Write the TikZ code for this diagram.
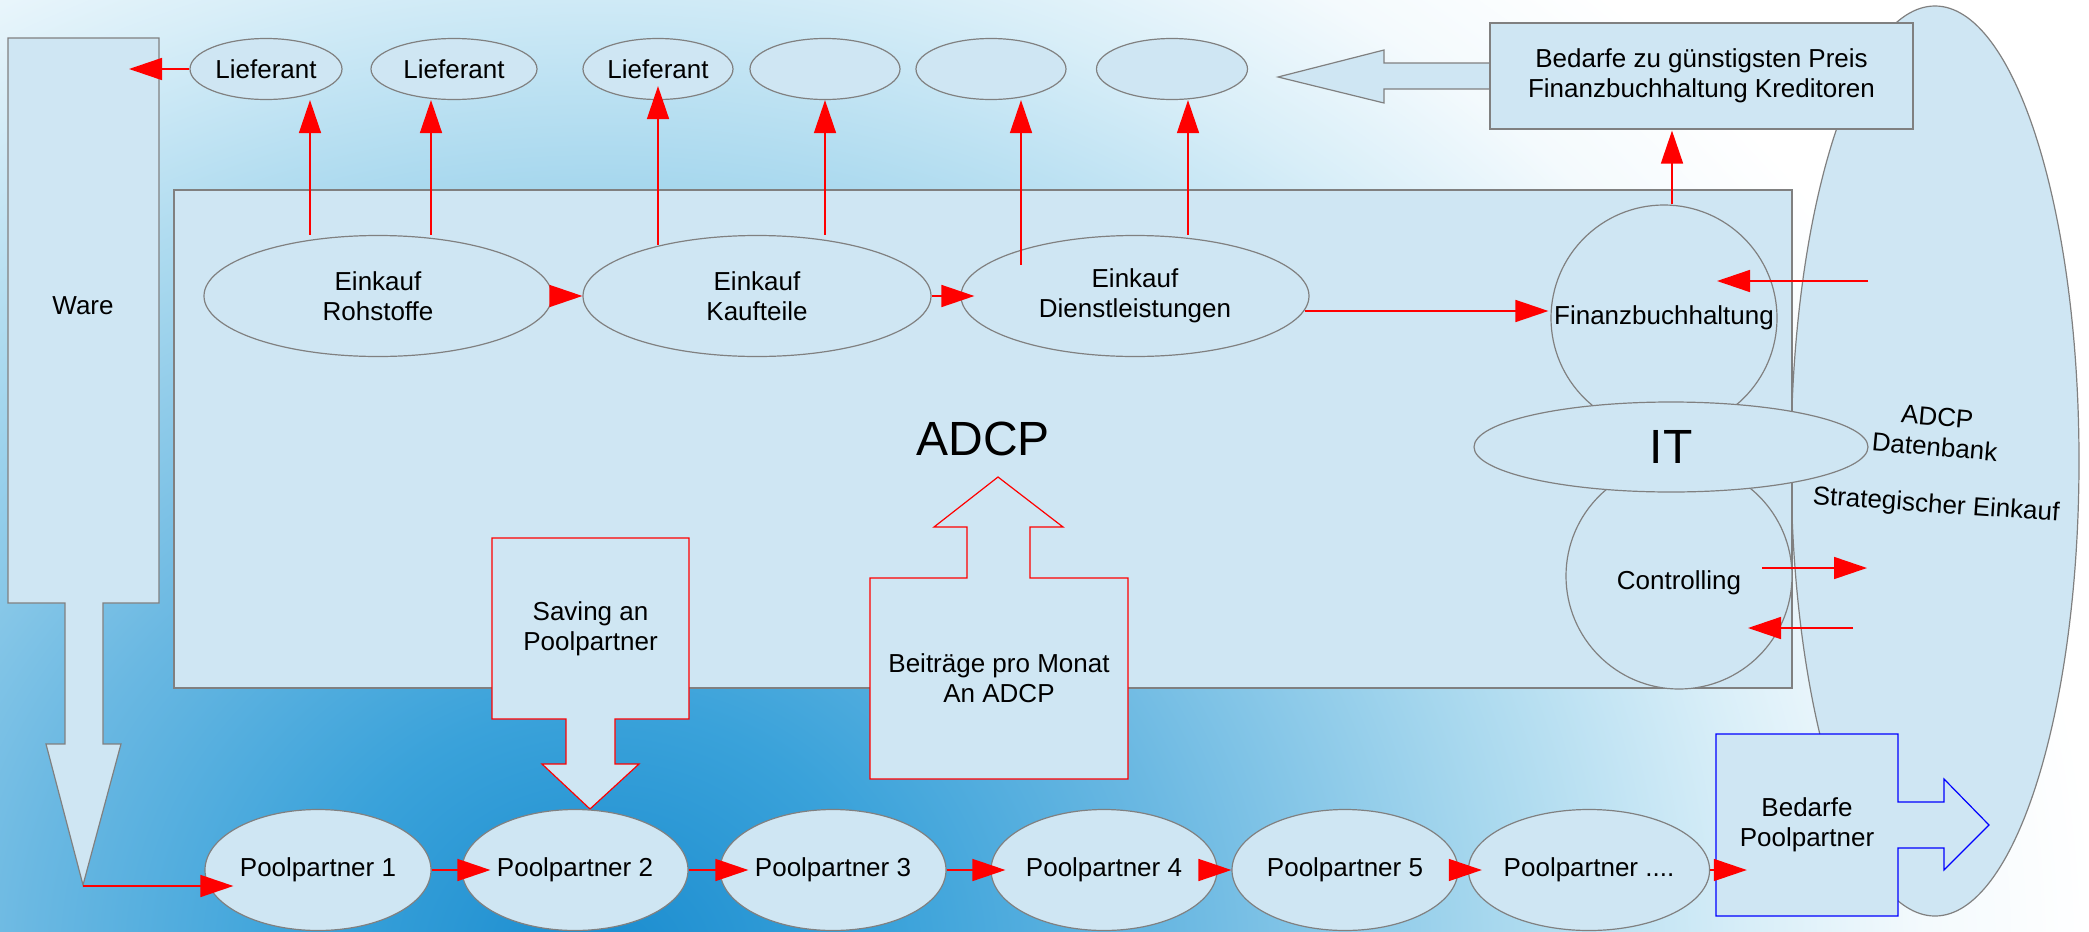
\documentclass[tikz,border=0pt]{standalone}
\usepackage{fontspec}
\setmainfont{Liberation Sans}
\usetikzlibrary{shapes.geometric,arrows.meta,calc}
\definecolor{boxfill}{RGB}{207,230,243}
\definecolor{edge}{RGB}{128,128,128}
\definecolor{bgA}{RGB}{26,140,207}
\definecolor{bgB}{RGB}{58,162,218}
\definecolor{bgC}{RGB}{106,184,226}
\definecolor{bgD}{RGB}{168,216,238}
\definecolor{bgE}{RGB}{216,238,248}
\definecolor{bgF}{RGB}{244,250,253}
\pgfdeclareradialshading{bgshade}{\pgfpoint{0bp}{0bp}}{color(0bp)=(bgA); color(4.2bp)=(bgB); color(8.3bp)=(bgC); color(13bp)=(bgD); color(16.7bp)=(bgE); color(19.2bp)=(bgF); color(21.7bp)=(white); color(50bp)=(white)}
\begin{document}
\begin{tikzpicture}[x=1pt,y=-1pt,
  every node/.style={font=\fontsize{26}{30}\selectfont, align=center, inner sep=0pt},
  ell/.style={ellipse, draw=edge, fill=boxfill, line width=1.2pt},
  boxnode/.style={rectangle, draw=edge, fill=boxfill, line width=1.2pt},
  blockarrow/.style={fill=boxfill, line width=1.2pt, line join=miter},
  arr/.style={draw=red, line width=1.6pt, -{Triangle[length=33pt,width=22pt]}},
  bigfont/.style={font=\fontsize{48}{54}\selectfont}]
\useasboundingbox (0,0) rectangle (2089,932);
\fill[white] (0,0) rectangle (2089,932);
\begin{scope}
  \clip (0,0) rectangle (2089,932);
  \shade[shading=bgshade] (600,960) ellipse [x radius=1725pt, y radius=1500pt];
\end{scope}

% database ellipse
\node[ell, minimum width=288, minimum height=910] (db) at (1935,461) {};

% ADCP main box
\node[boxnode, bigfont, minimum width=1618, minimum height=498] (adcp) at (983,439) {ADCP};

% left arrow and top right box
\draw[blockarrow, draw=edge] (1490,63) -- (1384,63) -- (1384,50) -- (1278,77) -- (1384,103) -- (1384,89) -- (1490,89);
\node[boxnode, minimum width=423, minimum height=106] (bedarf) at (1701.5,76) {Bedarfe zu günstigsten Preis\\Finanzbuchhaltung Kreditoren};

% Ware arrow
\draw[blockarrow, draw=edge] (8,38) -- (159,38) -- (159,603) -- (103,603) -- (103,744) -- (121,744) -- (83,885) -- (46,744) -- (65,744) -- (65,603) -- (8,603) -- cycle;
\node (ware) at (83,306) {Ware};
\coordinate (waretip) at (83,886);
\coordinate (wareL) at (129,69);

% Lieferanten
\node[ell, minimum width=152, minimum height=61] (lief1) at (266,69) {Lieferant};
\node[ell, minimum width=166, minimum height=61] (lief2) at (454,69) {Lieferant};
\node[ell, minimum width=150, minimum height=61] (lief3) at (658,69) {Lieferant};
\node[ell, minimum width=150, minimum height=61] (lief4) at (825,69) {};
\node[ell, minimum width=150, minimum height=61] (lief5) at (991,69) {};
\node[ell, minimum width=151, minimum height=61] (lief6) at (1172,69) {};

% Einkauf
\node[ell, minimum width=348, minimum height=121] (einkR) at (378,296) {Einkauf\\Rohstoffe};
\node[ell, minimum width=348, minimum height=121] (einkK) at (757,296) {Einkauf\\Kaufteile};
\node[ell, minimum width=348, minimum height=121] (einkD) at (1135,296) {Einkauf\\Dienstleistungen};

% Fibu, Controlling, IT
\node[ell, minimum width=226, minimum height=226, label={center:Finanzbuchhaltung}] (fibu) at (1664,318) {};
\node[ell, minimum width=226, minimum height=226, label={[yshift=-7pt]center:Controlling}] (ctrl) at (1679,576) {};
\node[ell, bigfont, minimum width=394, minimum height=90] (it) at (1671,447) {IT};

\node[rotate=-5] (dbtext) at (1936,432) {ADCP\\Datenbank};
\node[rotate=-4] (strat) at (1936,506) {Strategischer Einkauf};

% Saving arrow
\draw[blockarrow, draw=red] (492,538) -- (689,538) -- (689,719) -- (615,719) -- (615,764) -- (639,764) -- (590,809) -- (542,764) -- (566,764) -- (566,719) -- (492,719) -- cycle;
\node (saving) at (590.5,628.5) {Saving an\\Poolpartner};

% Beitraege arrow
\draw[blockarrow, draw=red] (870,578) -- (967,578) -- (967,527) -- (934,527) -- (998,477) -- (1063,527) -- (1030,527) -- (1030,578) -- (1128,578) -- (1128,779) -- (870,779) -- cycle;
\node (beitrag) at (999,678.5) {Beiträge pro Monat\\An ADCP};

% Poolpartner
\node[ell, minimum width=226, minimum height=121] (pp1) at (318,870) {Poolpartner 1};
\node[ell, minimum width=226, minimum height=121] (pp2) at (575,870) {Poolpartner 2};
\node[ell, minimum width=226, minimum height=121] (pp3) at (833,870) {Poolpartner 3};
\node[ell, minimum width=226, minimum height=121] (pp4) at (1104,870) {Poolpartner 4};
\node[ell, minimum width=226, minimum height=121] (pp5) at (1345,870) {Poolpartner 5};
\node[ell, minimum width=226, minimum height=121] (ppn) at (1589,870) {Poolpartner ....};

% Bedarfe Poolpartner arrow
\draw[blockarrow, draw=blue] (1716,734) -- (1898,734) -- (1898,802) -- (1944,802) -- (1944,779) -- (1989,825) -- (1944,870) -- (1944,848) -- (1898,848) -- (1898,916) -- (1716,916) -- cycle;
\node[minimum width=182, minimum height=182] (bpp) at (1807,825) {Bedarfe\\Poolpartner};

% free ends
\coordinate (fibuIn) at (1868,281);
\coordinate (ctrlOut) at (1867,568);
\coordinate (ctrlIn) at (1853,628);

% connectors
\draw[arr] (lief1.west) -- (wareL);
\draw[arr] ($(einkR.north)+(-68,0)$) -- ($(lief1.south)+(44,0)$);
\draw[arr] ($(einkR.north)+(53,0)$) -- ($(lief2.south)+(-23,0)$);
\draw[arr] ($(einkK.north)+(-99,10)$) -- ($(lief3.south)+(0,-14)$);
\draw[arr] ($(einkK.north)+(68,0)$) -- (lief4.south);
\draw[arr] ($(einkD.north)+(-114,30)$) -- ($(lief5.south)+(30,0)$);
\draw[arr] ($(einkD.north)+(53,0)$) -- ($(lief6.south)+(16,0)$);
\draw[arr] (einkR.east) -- (einkK.west);
\draw[arr] (einkK.east) -- ($(einkD.west)+(14,0)$);
\draw[arr] ($(einkD.east)+(-5,15)$) -- ($(fibu.west)+(-2,-7)$);
\draw[arr] (fibuIn) -- ($(fibu.center)+(53,-37)$);
\draw[arr] ($(fibu.north)+(8,0)$) -- ($(bedarf.south)+(-29.5,1)$);
\draw[arr] ($(ctrl.center)+(83,-8)$) -- (ctrlOut);
\draw[arr] (ctrlIn) -- ($(ctrl.center)+(69,52)$);
\draw[arr] (waretip) -- ($(pp1.west)+(29,16)$);
\draw[arr] (pp1.east) -- ($(pp2.west)+(29,0)$);
\draw[arr] (pp2.east) -- ($(pp3.west)+(29,0)$);
\draw[arr] (pp3.east) -- ($(pp4.west)+(15,0)$);
\draw[arr] (pp4.east) -- (pp5.west);
\draw[arr] (pp5.east) -- ($(ppn.west)+(14,0)$);
\draw[arr] (ppn.east) -- ($(bpp.west)+(31,45)$);
\end{tikzpicture}
\end{document}
